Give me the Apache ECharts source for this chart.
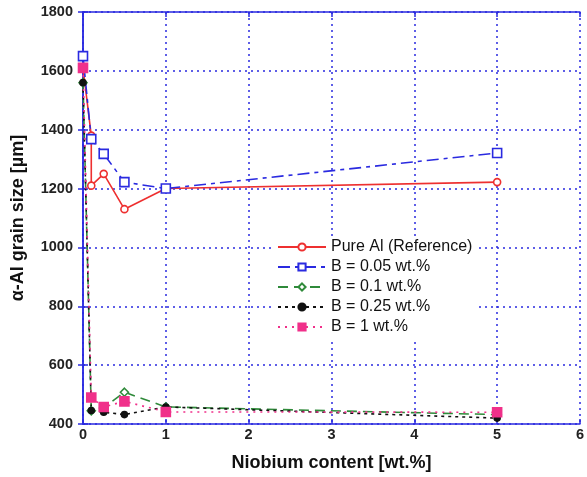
<!DOCTYPE html>
<html>
<head>
<meta charset="utf-8">
<script src="https://cdn.jsdelivr.net/npm/echarts@6/dist/echarts.min.js"></script>
<style>
  html, body { margin: 0; padding: 0; background: #fff; }
  #chart { width: 587px; height: 477px; }
</style>
</head>
<body>
<div id="chart"></div>
<script>
// Grain size of alpha-Al versus niobium addition, for several boron levels
const seriesNames = [
  'Pure Al (Reference)',
  'B = 0.05 wt.%',
  'B = 0.1 wt.%',
  'B = 0.25 wt.%',
  'B = 1 wt.%'
];

// Niobium content [wt.%] and grain size [µm] per series
const nbPure   = [0, 0.1, 0.1, 0.25, 0.5, 1, 5];
const sizePure = [1610, 1380, 1210, 1250, 1130, 1200, 1222];

const nbB005   = [0, 0.1, 0.25, 0.5, 1, 5];
const sizeB005 = [1650, 1368, 1318, 1222, 1200, 1321];

const nbB01    = [0, 0.1, 0.25, 0.5, 1, 5];
const sizeB01  = [1560, 445, 455, 508, 458, 432];

const nbB025   = [0, 0.1, 0.25, 0.5, 1, 5];
const sizeB025 = [1560, 446, 440, 432, 458, 420];

const nbB1     = [0, 0.1, 0.25, 0.5, 1, 5];
const sizeB1   = [1610, 490, 458, 477, 441, 440];

const xTicks = [0, 6, 1];
const yTicks = [400, 1800, 200];

const zip = (xs, ys) => xs.map((x, i) => [x, ys[i]]);

const blue = '#2a2ae0';
const font = '"Liberation Sans", Arial, sans-serif';

function lineSeries(name, data, color, lineType, symbol, size, filled) {
  return {
    name: name,
    type: 'line',
    data: data,
    color: color,
    symbol: symbol,
    symbolSize: size,
    showAllSymbol: true,
    lineStyle: { color: color, width: 1.6, type: lineType },
    itemStyle: {
      color: filled ? color : '#ffffff',
      borderColor: color,
      borderWidth: 1.6
    },
    emphasis: { disabled: true },
    z: 3
  };
}

const chart = echarts.init(document.getElementById('chart'), null, { renderer: 'canvas' });

const axisCommon = {
  type: 'value',
  axisLine: { show: true, lineStyle: { color: blue, width: 1.5 } },
  axisTick: { show: true, inside: true, length: 5, lineStyle: { color: blue, width: 1.5 } },
  splitLine: { show: true, lineStyle: { color: blue, type: [2, 4], width: 1.5 } }
};

const tickLabel = { fontFamily: font, fontSize: 14.5, fontWeight: 'bold', color: '#222' };
const titleText = { fontFamily: font, fontSize: 18, fontWeight: 'bold', color: '#111' };

chart.setOption({
  animation: false,
  backgroundColor: '#ffffff',
  grid: { left: 83, right: 3, top: 12, bottom: 50, show: false },
  legend: {
    orient: 'vertical',
    left: 273,
    top: 236,
    padding: [3, 4, 3, 4],
    backgroundColor: '#ffffff',
    itemWidth: 48,
    itemHeight: 9,
    itemGap: 4,
    textStyle: { fontFamily: font, fontSize: 16, color: '#111' },
    data: seriesNames,
    z: 10
  },
  xAxis: [
    Object.assign({}, axisCommon, {
      min: xTicks[0], max: xTicks[1], interval: xTicks[2],
      name: 'Niobium content [wt.%]',
      nameLocation: 'middle',
      nameGap: 30,
      nameTextStyle: titleText,
      axisLabel: Object.assign({ margin: 3 }, tickLabel)
    }),
    Object.assign({}, axisCommon, {
      position: 'top',
      min: xTicks[0], max: xTicks[1], interval: xTicks[2],
      axisLabel: { show: false },
      splitLine: { show: false }
    })
  ],
  yAxis: [
    Object.assign({}, axisCommon, {
      min: yTicks[0], max: yTicks[1], interval: yTicks[2],
      name: 'α-Al grain size [µm]',
      nameLocation: 'middle',
      nameGap: 56,
      nameTextStyle: titleText,
      axisLabel: Object.assign({ margin: 10, formatter: v => String(v) }, tickLabel)
    }),
    Object.assign({}, axisCommon, {
      position: 'right',
      min: yTicks[0], max: yTicks[1], interval: yTicks[2],
      axisLabel: { show: false },
      splitLine: { show: false }
    })
  ],
  series: [
    lineSeries(seriesNames[0], zip(nbPure, sizePure), '#ee3030', 'solid', 'circle', 7, false),
    lineSeries(seriesNames[1], zip(nbB005, sizeB005), '#2a2ae0', [12, 5, 4, 5], 'rect', 9, false),
    lineSeries(seriesNames[2], zip(nbB01, sizeB01), '#2f8a3a', [10, 6], 'diamond', 8, false),
    lineSeries(seriesNames[3], zip(nbB025, sizeB025), '#111111', [3, 4], 'circle', 6, true),
    lineSeries(seriesNames[4], zip(nbB1, sizeB1), '#f0308a', [2, 5], 'rect', 9, true)
  ]
});
</script>
</body>
</html>
